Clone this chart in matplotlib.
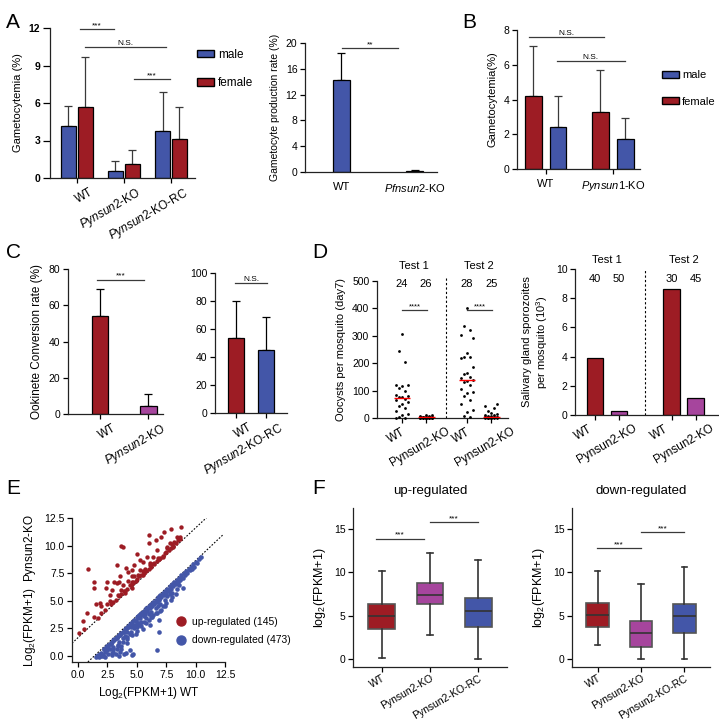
import numpy as np
import matplotlib
matplotlib.use('Agg')
import matplotlib.pyplot as plt
from matplotlib.patches import Patch
from matplotlib.lines import Line2D
import matplotlib.transforms as mtransforms

plt.rcParams['font.family'] = ['Liberation Sans', 'DejaVu Sans']
plt.rcParams['mathtext.fontset'] = 'custom'
plt.rcParams['mathtext.rm'] = 'Liberation Sans'
plt.rcParams['mathtext.it'] = 'Liberation Sans:italic'

BLUE = '#4356a8'
RED = '#9d1c24'
MAG = '#a6459d'
GRAY = '#3a3a3a'

# ----- DATA -----
# A (left) gametocytemia
a_groups = ['WT', r'$\it{Pynsun2}$-KO', r'$\it{Pynsun2}$-KO-RC']
a_male = [4.2, 0.55, 3.8]
a_male_err = [1.55, 0.8, 3.1]
a_female = [5.7, 1.1, 3.1]
a_female_err = [3.95, 1.15, 2.55]

# A (right) P. falciparum gametocyte production
pf_groups = ['WT', r'$\it{Pfnsun2}$-KO']
pf_rate = [14.3, 0.15]
pf_err = [4.2, 0.1]

# B
b_groups = ['WT', r'$\it{Pynsun1}$-KO']
b_female = [4.2, 3.3]
b_female_err = [2.9, 2.4]
b_male = [2.4, 1.75]
b_male_err = [1.8, 1.2]

# C ookinete conversion
c1_groups = ['WT', r'$\it{Pynsun2}$-KO']
c1_vals = [54, 4.5]
c1_err = [15, 6.5]
c2_groups = ['WT', r'$\it{Pynsun2}$-KO-RC']
c2_vals = [53.5, 45]
c2_err = [26.5, 23.5]

# D oocysts per mosquito
d_groups = ['WT', 'Pynsun2-KO', 'WT', 'Pynsun2-KO']
d_n = ['24', '26', '28', '25']
d_wt1 = [307, 246, 204, 122, 120, 118, 110, 100, 85, 80, 78, 75,
         70, 65, 58, 50, 42, 35, 25, 15, 10, 5, 0, 0]
d_ko1 = [0, 0, 0, 0, 0, 0, 0, 0, 1, 1, 1, 2, 2, 2, 2, 3, 3, 3, 4, 4,
         5, 5, 6, 8, 10, 12]
d_wt2 = [401, 336, 322, 303, 291, 239, 224, 222, 220, 185, 165, 160, 150, 145,
         140, 136, 130, 120, 105, 95, 90, 80, 66, 50, 30, 22, 8, 4]
d_ko2 = [0, 0, 0, 0, 0, 1, 1, 2, 2, 3, 3, 3, 4, 5, 5, 6, 8, 10, 12, 15,
         20, 25, 35, 45, 52]
d_medians = [72, 2, 138, 3]

# D salivary gland sporozoites
s_groups = ['WT', 'Pynsun2-KO', 'WT', 'Pynsun2-KO']
s_n = ['40', '50', '30', '45']
s_vals = [3.9, 0.25, 8.6, 1.15]

# E scatter
up_x = [0.1, 0.5, 0.4, 0.8, 1.4, 1.7, 1.5, 1.9, 2.5, 2.7, 3.4, 1.4, 2.4, 3.3, 3.7, 4.0,
        4.6, 4.7, 0.9, 1.4, 2.5, 3.3, 3.7, 3.8, 3.1, 3.5, 4.3, 4.6, 4.8, 5.3, 6.0, 6.0,
        6.4, 5.6, 6.5, 6.7, 7.2, 7.1, 7.6, 7.8, 7.9, 8.4, 8.8, 8.7, 8.1, 6.9, 6.1, 5.9,
        5.5, 5.5, 2.0, 2.3, 2.8, 3.0, 3.2, 3.5, 3.7, 4.0, 4.2, 4.5, 4.7, 4.9, 5.0, 5.2,
        5.4, 5.6, 5.8, 6.0, 6.2, 6.5, 6.7, 7.0, 7.2, 7.5, 7.7, 7.9, 8.1, 8.3, 8.5, 8.7,
        3.8, 4.3, 4.8, 5.3, 2.7, 2.0, 2.9, 3.6, 4.1, 4.6, 5.0, 6.6, 7.3, 8.2, 3.9, 4.4,
        5.7, 6.3, 6.9, 7.4, 8.0, 4.6, 5.1, 5.5, 6.1, 6.8, 7.6]
up_y = [2.1, 2.4, 3.2, 3.9, 3.5, 3.4, 4.7, 4.8, 4.7, 5.5, 5.5, 6.2, 6.2, 6.6, 6.0, 5.7,
        6.2, 6.7, 7.9, 6.7, 6.7, 8.2, 10.0, 9.9, 6.7, 6.7, 7.6, 7.2, 8.2, 8.7, 11.0, 10.2,
        9.0, 7.6, 8.3, 9.6, 9.0, 10.8, 9.8, 10.2, 11.5, 10.8, 11.7, 10.8, 9.9, 8.8, 8.4, 9.0,
        7.3, 8.5, 3.9, 4.2, 4.7, 4.9, 5.1, 5.4, 5.6, 5.9, 6.1, 6.4, 6.6, 6.8, 7.0, 7.2,
        7.3, 7.5, 7.7, 7.9, 8.1, 8.4, 8.6, 8.9, 9.1, 9.4, 9.6, 9.8, 10.0, 10.2, 10.5, 10.6,
        6.4, 6.8, 7.2, 7.8, 5.0, 4.5, 6.0, 7.2, 8.0, 7.8, 9.2, 10.5, 11.2, 10.3, 5.9, 6.4,
        7.9, 8.3, 8.8, 9.3, 10.1, 6.7, 7.3, 7.7, 8.2, 8.9, 9.9]
down_x = [1.5, 1.7, 1.8, 2.0, 2.1, 2.2, 2.3, 2.4, 2.5, 2.6, 2.7, 2.8, 2.9, 3.0, 3.0, 3.1,
          3.2, 3.3, 3.4, 3.5, 3.5, 3.6, 3.7, 3.8, 3.9, 4.0, 4.1, 4.2, 4.4, 4.6, 2.0, 2.5,
          1.9, 2.3, 3.3, 3.6, 2.7, 3.9, 4.3, 4.5, 4.7, 6.7, 6.9,
          4.1, 4.2, 4.3, 4.4, 4.5, 4.6, 4.7, 4.8, 4.9, 5.0, 5.0, 5.1, 5.2, 5.2, 5.3, 5.4,
          5.4, 5.5, 5.6, 5.6, 5.7, 5.8, 5.8, 5.9, 6.0, 6.0, 6.1, 6.2, 6.2, 6.3, 6.4, 6.4,
          6.5, 6.6, 6.6, 6.7, 6.8, 6.8, 6.9, 7.0, 7.0, 7.1, 7.2, 7.2, 7.3, 7.4, 7.4, 7.5,
          7.6, 7.6, 7.7, 7.8, 7.8, 7.9, 8.0, 8.0, 8.1, 8.2, 8.3, 8.4, 8.4, 8.5, 8.6, 8.7,
          8.8, 8.9, 9.0, 9.1, 9.2, 9.3, 9.4, 9.6, 9.8, 10.0, 10.3, 10.5, 9.7, 10.1,
          2.6, 2.9, 3.2, 3.5, 3.8, 4.0, 4.2, 4.5, 4.8, 5.0, 5.3, 5.6, 6.0, 6.3, 6.7, 7.1,
          7.5, 8.0, 8.6, 3.0, 3.4, 3.7, 4.4,
          2.2, 2.4, 2.8, 3.1, 3.3, 3.6, 3.9, 4.1, 4.3, 4.6, 4.9, 5.1, 5.4, 5.7, 5.9, 6.2,
          6.5, 6.9, 7.3, 7.7, 8.2, 8.8, 9.5, 2.0, 2.6, 3.0, 3.4, 3.8, 4.2, 4.6, 5.0, 5.4,
          5.8, 6.2, 6.6, 7.0, 7.4, 7.9, 8.3, 8.9, 9.9, 1.6, 2.1, 2.9, 3.7, 4.9, 5.5, 6.1,
          6.9]
down_y = [-0.1, 0.1, -0.1, 0.3, 0.1, 0.6, -0.1, 0.5, 0.9, 0.2, 0.6, 1.2, 0.1, 0.4, 0.8, 1.5,
          0.2, 0.6, 1.0, 0.0, 1.9, 0.4, 0.9, 1.6, 0.2, 2.4, 0.3, 1.2, 0.5, 0.1, 0.0, 0.5,
          0.2, 0.4, 1.7, 2.0, 1.1, 2.3, 2.7, 2.9, 0.2, 0.5, 2.2,
          2.5, 2.2, 2.6, 2.9, 2.6, 3.1, 2.8, 3.3, 2.8, 3.5, 3.0, 3.6, 3.0, 3.7, 3.4, 3.9,
          3.1, 4.0, 3.6, 4.1, 3.8, 4.3, 3.4, 4.1, 4.5, 3.8, 4.3, 4.7, 4.0, 4.5, 4.9, 3.7,
          4.7, 5.1, 4.3, 4.9, 5.3, 4.5, 5.1, 5.5, 4.7, 5.3, 5.7, 4.5, 5.5, 5.9, 5.1, 5.7,
          6.1, 5.4, 5.9, 6.3, 5.6, 6.1, 6.5, 5.7, 6.3, 6.7, 6.5, 6.9, 6.1, 6.7, 7.1, 6.9,
          7.3, 7.1, 7.5, 7.3, 7.7, 7.5, 7.9, 8.1, 8.3, 8.5, 8.8, 9.0, 7.9, 8.4,
          1.0, 1.3, 1.6, 1.3, 2.2, 1.8, 1.7, 2.2, 2.5, 2.6, 2.8, 3.1, 3.3, 3.5, 3.9, 4.2,
          4.8, 5.3, 6.4, 1.4, 1.8, 2.1, 2.0,
          0.6, 0.8, 1.1, 1.4, 1.6, 1.9, 2.2, 2.4, 2.6, 2.9, 3.2, 3.4, 3.7, 4.0, 4.2, 4.5,
          4.8, 5.2, 5.6, 6.0, 6.5, 7.1, 7.8, 0.1, 0.7, 0.6, 0.9, 1.3, 1.5, 1.9, 2.3, 2.7,
          3.0, 3.5, 3.9, 4.1, 4.5, 5.1, 5.6, 6.2, 8.1, 0.0, 0.0, 0.3, 0.6, 2.0, 2.4, 2.8,
          3.3]
e_upper_line = ([-0.5, 11.2], [1.15, 12.8])
e_lower_line = ([0.85, 12.3], [-0.55, 10.95])

# F box plots (whisker low, q1, median, q3, whisker high)
f_groups = ['WT', 'Pynsun2-KO', 'Pynsun2-KO-RC']
fu_low = [0.1, 2.75, 0.05]
fu_q1 = [3.5, 6.3, 3.75]
fu_med = [4.95, 7.4, 5.55]
fu_q3 = [6.3, 8.8, 7.05]
fu_high = [10.1, 12.25, 11.4]
fd_low = [1.6, 0.0, 0.0]
fd_q1 = [3.7, 1.4, 3.0]
fd_med = [5.1, 3.05, 4.95]
fd_q3 = [6.45, 4.45, 6.3]
fd_high = [10.1, 8.65, 10.6]

# ----- FIGURE -----
W, H = 719, 720
fig = plt.figure(figsize=(W / 100, H / 100), dpi=100)


def add_ax(l, t, r, b):
    return fig.add_axes([l / W, 1 - b / H, (r - l) / W, (b - t) / H])


def ftext(x, y, s, **kw):
    fig.text(x / W, 1 - y / H, s, **kw)


def style(ax, fs=7.5):
    for s in ['top', 'right']:
        ax.spines[s].set_visible(False)
    for s in ['left', 'bottom']:
        ax.spines[s].set_linewidth(0.9)
        ax.spines[s].set_color('#222222')
    ax.tick_params(direction='out', length=3.5, width=0.9, labelsize=fs, pad=2)


def xlabels(ax, pos, labels, rot=30, ha='right', dx=0, fs=8):
    ax.set_xticks(pos)
    mode = 'anchor' if ha == 'right' else 'default'
    ax.set_xticklabels(labels, rotation=rot, ha=ha, rotation_mode=mode, fontsize=fs)
    if dx:
        off = mtransforms.ScaledTranslation(dx / 100, 0, fig.dpi_scale_trans)
        for lab in ax.get_xticklabels():
            lab.set_transform(lab.get_transform() + off)


def sig(ax, x1, x2, y, s, fs=6):
    ax.plot([x1, x2], [y, y], color=GRAY, lw=0.9, clip_on=False)
    ax.text((x1 + x2) / 2, y, s, ha='center', va='bottom', fontsize=fs, clip_on=False)


def bars(ax, x, vals, err, color, width):
    ax.bar(x, vals, width, color=color, edgecolor='black', linewidth=0.9, zorder=2)
    ax.errorbar(x, vals, yerr=[np.zeros(len(vals)), err], fmt='none', ecolor=GRAY,
                elinewidth=0.9, capsize=3, capthick=0.9, zorder=1)


# ----- A left -----
ax = add_ax(50, 28, 195, 178)
style(ax)
xa = np.arange(3)
bars(ax, xa - 0.18, a_male, a_male_err, BLUE, 0.32)
bars(ax, xa + 0.18, a_female, a_female_err, RED, 0.32)
ax.set_xlim(-0.57, 2.51)
ax.set_ylim(0, 12)
ax.set_yticks([0, 3, 6, 9, 12])
for lab in ax.get_yticklabels():
    lab.set_fontweight('bold')
ax.tick_params(axis='y', length=5)
ax.set_ylabel('Gametocytemia (%)', fontsize=8)
xlabels(ax, xa, a_groups, dx=12, fs=8.5)
sig(ax, 0.06, 0.79, 11.9, '***')
sig(ax, 0.17, 1.89, 10.5, 'N.S.')
sig(ax, 1.21, 1.98, 7.9, '***')
fig.legend(handles=[Patch(facecolor=BLUE, edgecolor='black', label='male'),
                    Patch(facecolor=RED, edgecolor='black', label='female')],
           loc='upper left', bbox_to_anchor=(186 / W, 1 - 38 / H), frameon=False,
           fontsize=8.5, handlelength=1.5, handleheight=0.6, labelspacing=1.4,
           handletextpad=0.3)

# ----- A right -----
ax = add_ax(305, 43, 437, 172)
style(ax)
xp = np.arange(2)
ax.bar(xp, pf_rate, 0.23, color=[BLUE, RED], edgecolor='black', linewidth=0.9, zorder=2)
ax.errorbar(xp, pf_rate, yerr=[np.zeros(2), pf_err], fmt='none', ecolor='black',
            elinewidth=0.9, capsize=3, capthick=0.9, zorder=1)
ax.set_xlim(-0.49, 1.3)
ax.set_ylim(0, 20)
ax.set_yticks([0, 4, 8, 12, 16, 20])
ax.set_ylabel('Gametocyte production rate (%)', fontsize=7.5)
xlabels(ax, xp, pf_groups, rot=0, ha='center')
ax.tick_params(axis='x', length=0, pad=7)
sig(ax, 0.01, 0.77, 19.2, '**')

# ----- B -----
ax = add_ax(517, 30, 640, 169)
style(ax)
xb = np.arange(2)
bars(ax, xb - 0.19, b_female, b_female_err, RED, 0.25)
bars(ax, xb + 0.18, b_male, b_male_err, BLUE, 0.25)
ax.set_xlim(-0.43, 1.4)
ax.set_ylim(0, 8)
ax.set_yticks([0, 2, 4, 6, 8])
ax.set_ylabel('Gametocytemia(%)', fontsize=8)
xlabels(ax, xb, b_groups, rot=0, ha='center')
ax.tick_params(axis='x', pad=4)
sig(ax, -0.25, 0.87, 7.6, 'N.S.')
sig(ax, 0.16, 1.18, 6.2, 'N.S.')
fig.legend(handles=[Patch(facecolor=BLUE, edgecolor='black', label='male'),
                    Patch(facecolor=RED, edgecolor='black', label='female')],
           loc='upper left', bbox_to_anchor=(652 / W, 1 - 60 / H), frameon=False,
           fontsize=8, handlelength=1.5, handleheight=0.6, labelspacing=1.5,
           handletextpad=0.3)

# ----- C left -----
ax = add_ax(68, 269, 163, 414)
style(ax)
xc = np.arange(2)
ax.bar(xc, c1_vals, 0.34, color=[RED, MAG], edgecolor='black', linewidth=0.9, zorder=2)
ax.errorbar(xc, c1_vals, yerr=[np.zeros(2), c1_err], fmt='none', ecolor='black',
            elinewidth=0.9, capsize=3, capthick=0.9, zorder=1)
ax.set_xlim(-0.66, 1.3)
ax.set_ylim(0, 80)
ax.set_yticks([0, 20, 40, 60, 80])
ax.set_ylabel('Ookinete Conversion rate (%)', fontsize=8.5)
xlabels(ax, xc, c1_groups, dx=12, fs=8.5)
sig(ax, -0.06, 0.91, 74, '***')

# ----- C right -----
ax = add_ax(215, 273, 287, 413)
style(ax)
ax.bar(xc, c2_vals, 0.53, color=[RED, BLUE], edgecolor='black', linewidth=0.9, zorder=2)
ax.errorbar(xc, c2_vals, yerr=[np.zeros(2), c2_err], fmt='none', ecolor='black',
            elinewidth=0.9, capsize=3, capthick=0.9, zorder=1)
ax.set_xlim(-0.7, 1.7)
ax.set_ylim(0, 100)
ax.set_yticks([0, 20, 40, 60, 80, 100])
xlabels(ax, xc, c2_groups, dx=12, fs=8.5)
sig(ax, -0.03, 1.03, 93, 'N.S.')

# ----- D left -----
ax = add_ax(377, 281, 508, 418)
style(ax)
xd = [0, 1, 2.7, 3.7]
jit = [0, -0.13, 0.13, -0.26, 0.26]
for p, vals in zip(xd, [d_wt1, d_ko1, d_wt2, d_ko2]):
    offs = [p + jit[i % len(jit)] for i in range(len(vals))]
    ax.scatter(offs, vals, s=4, color='black', zorder=3, clip_on=False, linewidths=0)
ax.hlines(d_medians, np.array(xd) - 0.35, np.array(xd) + 0.35, color='red', lw=1, zorder=4)
ax.axvline(1.83, color='black', lw=0.8, ls=(0, (2, 2)), ymax=1.02, clip_on=False)
ax.set_xlim(-1.04, 4.4)
ax.set_ylim(0, 500)
ax.set_yticks([0, 100, 200, 300, 400, 500])
ax.set_ylabel('Oocysts per mosquito (day7)', fontsize=8)
xlabels(ax, xd, d_groups, ha='center', dx=-6, fs=8.5)
for p, n in zip(xd, d_n):
    ax.text(p, 489, n, ha='center', va='center', fontsize=8, clip_on=False)
ax.text(0.5, 555, 'Test 1', ha='center', va='center', fontsize=8, clip_on=False)
ax.text(3.2, 555, 'Test 2', ha='center', va='center', fontsize=8, clip_on=False)
sig(ax, 0.0, 1.04, 394, '****', fs=5.5)
sig(ax, 2.7, 3.74, 394, '****', fs=5.5)

# ----- D right -----
ax = add_ax(575, 269, 719, 415)
style(ax)
xs = [0, 1, 3.2, 4.2]
ax.bar(xs, s_vals, 0.7, color=[RED, MAG, RED, MAG], edgecolor='black', linewidth=0.9)
ax.axvline(2.08, color='black', lw=0.8, ls=(0, (2, 2)))
ax.set_xlim(-0.83, 5.17)
ax.set_ylim(0, 10)
ax.set_yticks([0, 2, 4, 6, 8, 10])
ax.set_ylabel('Salivary gland sporozoites\nper mosquito (10$^3$)', fontsize=8)
xlabels(ax, xs, s_groups, ha='center', dx=-12, fs=8.5)
for p, n in zip(xs, s_n):
    ax.text(p, 9.3, n, ha='center', va='center', fontsize=8, clip_on=False)
ax.text(0.5, 10.6, 'Test 1', ha='center', va='center', fontsize=8, clip_on=False)
ax.text(3.7, 10.6, 'Test 2', ha='center', va='center', fontsize=8, clip_on=False)

# ----- E -----
ax = add_ax(72, 518, 225, 662)
style(ax)
ax.scatter(up_x, up_y, s=10, color=RED, linewidths=0, zorder=3)
ax.scatter(down_x, down_y, s=11, color=BLUE, linewidths=0, zorder=3)
ax.plot(*e_upper_line, color='black', lw=0.8, ls=(0, (1.5, 1.5)))
ax.plot(*e_lower_line, color='black', lw=0.8, ls=(0, (1.5, 1.5)))
ax.set_xlim(-0.5, 12.5)
ax.set_ylim(-0.55, 12.5)
ticks = [0, 2.5, 5, 7.5, 10, 12.5]
ax.set_xticks(ticks)
ax.set_yticks(ticks)
ax.set_xticklabels(['%.1f' % t for t in ticks])
ax.set_yticklabels(['%.1f' % t for t in ticks])
ax.set_xlabel('Log$_2$(FPKM+1) WT', fontsize=8.5)
ax.set_ylabel('Log$_2$(FPKM+1)  Pynsun2-KO', fontsize=8.5)
ax.legend(handles=[Line2D([], [], marker='o', ls='none', color=RED, markersize=6.5,
                          label='up-regulated (145)'),
                   Line2D([], [], marker='o', ls='none', color=BLUE, markersize=6.5,
                          label='down-regulated (473)')],
          loc='center left', bbox_to_anchor=(0.58, 0.215), frameon=False, fontsize=7.5,
          handletextpad=0.1, labelspacing=0.8)

# ----- F -----
def boxes(ax, low, q1, med, q3, high, width):
    stats = [dict(whislo=a, q1=b, med=c, q3=d, whishi=e, fliers=[])
             for a, b, c, d, e in zip(low, q1, med, q3, high)]
    bp = ax.bxp(stats, positions=[0, 1, 2], widths=width, patch_artist=True,
                showfliers=False, capwidths=0.12,
                medianprops=dict(color='#333333', lw=1.2),
                whiskerprops=dict(color='#333333', lw=1.2),
                capprops=dict(color='#333333', lw=1.2),
                boxprops=dict(edgecolor='#555555', lw=1.2))
    for patch, c in zip(bp['boxes'], [RED, MAG, BLUE]):
        patch.set_facecolor(c)


for (l, r), low, q1, med, q3, high, width, title, s1, s2 in [
        ((353, 507), fu_low, fu_q1, fu_med, fu_q3, fu_high, 0.56, 'up-regulated',
         (-0.12, 0.87, 13.85), (0.99, 2.0, 15.8)),
        ((572, 710), fd_low, fd_q1, fd_med, fd_q3, fd_high, 0.53, 'down-regulated',
         (-0.02, 1.0, 12.8), (1.0, 2.0, 14.65))]:
    ax = add_ax(l, 508, r, 667)
    style(ax)
    boxes(ax, low, q1, med, q3, high, width)
    ax.set_xlim(-0.6, 2.6)
    ax.set_ylim(-0.9, 17.4)
    ax.set_yticks([0, 5, 10, 15])
    ax.set_ylabel('log$_2$(FPKM+1)', fontsize=9)
    ax.set_title(title, fontsize=9.5, pad=10)
    xlabels(ax, [0, 1, 2], f_groups, dx=12, fs=7.5)
    ax.tick_params(axis='x', pad=1)
    sig(ax, s1[0], s1[1], s1[2], '***')
    sig(ax, s2[0], s2[1], s2[2], '***')

# ----- panel letters -----
for x, y, s in [(6, 22, 'A'), (462, 22, 'B'), (6, 252, 'C'), (312, 252, 'D'),
                (6, 488, 'E'), (312, 488, 'F')]:
    ftext(x, y, s, fontsize=15, va='center', ha='left')

fig.savefig('out.png', dpi=100)
